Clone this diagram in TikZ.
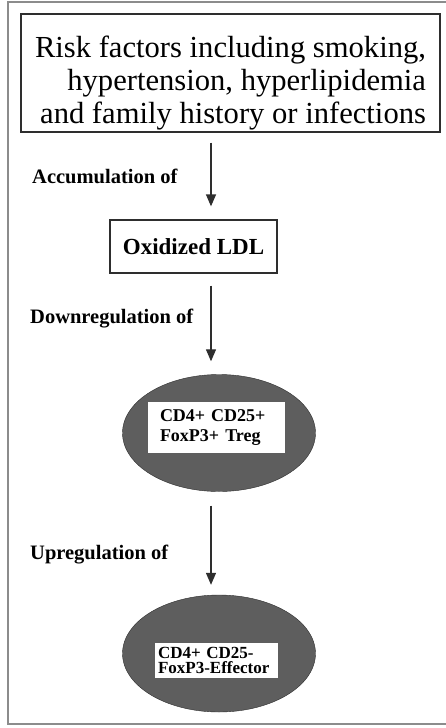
\documentclass[tikz,border=0pt]{standalone}
\usepackage{fontspec}
\setmainfont{Liberation Serif}
\usetikzlibrary{arrows.meta, shapes.geometric}
\definecolor{ink}{HTML}{2E2E2E}
\definecolor{framec}{HTML}{8C8C8C}
\definecolor{cellgray}{HTML}{5E5E5E}
\newcommand{\RiskF}{\fontsize{30.6}{33}\selectfont}
\newcommand{\StepF}{\fontsize{20.5}{24}\selectfont\bfseries}
\newcommand{\LdlF}{\fontsize{23}{27}\selectfont\bfseries}
\newcommand{\CellF}{\fontsize{18}{20}\selectfont\bfseries}

\begin{document}
\begin{tikzpicture}[x=1pt, y=-1pt,
  flow/.style={draw=ink, line width=1.3pt, -{Triangle[length=12pt, width=10pt]}},
  stage/.style={draw=ink, line width=1.3pt, fill=white, inner ysep=0pt},
  cell/.style={ellipse, draw=ink, fill=cellgray, minimum width=193pt, minimum height=117pt, inner sep=0pt},
  tag/.style={fill=white, align=left, font=\CellF},
  steplabel/.style={anchor=base west, inner sep=0pt, font=\StepF}]
  \useasboundingbox (0,0) rectangle (445,728);
  \draw[framec, line width=1.5pt] (8,2) rectangle (452,724);

  \node[stage, align=right, minimum width=419pt, minimum height=118pt, inner xsep=0pt,
        font=\RiskF] (risk) at (230.5,73)
    {\rule{0pt}{41pt}Risk factors including smoking,\\ hypertension, hyperlipidemia\\ and family history or infections};
  \node[stage, minimum width=167pt, minimum height=53pt, font=\LdlF] (ldl) at (193.5,246.5) {Oxidized LDL};

  \node[cell] (treg) at (219,433) {};
  \node[tag, text width=113pt, inner xsep=12pt, inner ysep=1pt, minimum height=51pt] (tregtag) at (216.5,427.5)
    {CD4+ CD25+\\ FoxP3+ Treg};
  \node[cell] (eff) at (219,653.5) {};
  \node[tag, text width=117pt, inner xsep=3pt, inner ysep=1pt, minimum height=35pt,
        font=\fontsize{17}{15.5}\selectfont\bfseries] (efftag) at (216.5,660.5)
    {CD4+ CD25-\\ FoxP3-Effector};

  \node[steplabel] (accum) at (32,183) {Accumulation of};
  \node[steplabel] (down) at (30,323) {Downregulation of};
  \node[steplabel] (up) at (30,559) {Upregulation of};

  \coordinate (axis) at (211,0);
  \draw[flow, shorten <=10pt, shorten >=13pt] (risk.south -| axis) -- (ldl.north -| axis);
  \draw[flow, shorten <=12pt, shorten >=13pt] (ldl.south -| axis) -- (treg.north -| axis);
  \draw[flow, shorten <=14pt, shorten >=10pt] (treg.south -| axis) -- (eff.north -| axis);
\end{tikzpicture}
\end{document}
